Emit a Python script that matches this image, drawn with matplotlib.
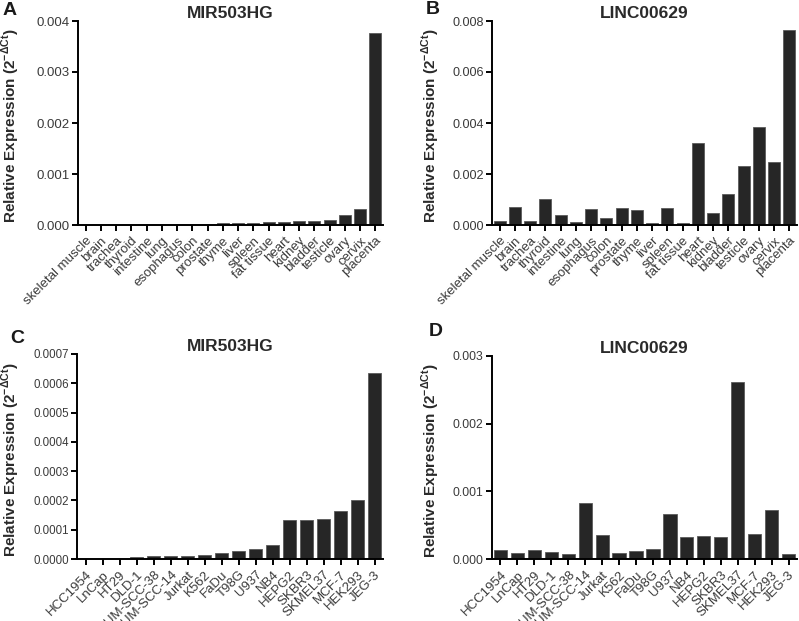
import matplotlib

matplotlib.use("Agg")
import matplotlib.pyplot as plt
from matplotlib.ticker import FormatStrFormatter, MultipleLocator

plt.rcParams["font.family"] = ["Liberation Sans", "DejaVu Sans"]
plt.rcParams["mathtext.fontset"] = "custom"
plt.rcParams["mathtext.rm"] = "Liberation Sans"
plt.rcParams["mathtext.bf"] = "Liberation Sans:bold"

tissues = ["skeletal muscle", "brain", "trachea", "thyroid", "intestine", "lung",
           "esophagus", "colon", "prostate", "thyme", "liver", "spleen", "fat tissue",
           "heart", "kidney", "bladder", "testicle", "ovary", "cervix", "placenta"]
mir_tissue = [0.000001, 0.000001, 0.000001, 0.000001, 0.000001, 0.000001,
              0.000001, 0.000001, 0.000002, 0.00003, 0.00004, 0.00004, 0.00005,
              0.00006, 0.00007, 0.00008, 0.00009, 0.000195, 0.000305, 0.00376]
linc_tissue = [0.00017, 0.0007, 0.00016, 0.00103, 0.00038, 0.00012,
               0.00063, 0.00026, 0.00068, 0.00059, 0.00008, 0.00065, 0.00008,
               0.00322, 0.00048, 0.00121, 0.00231, 0.00383, 0.00246, 0.00764]

cells = ["HCC1954", "LnCap", "HT29", "DLD-1", "UM-SCC-38", "UM-SCC-14", "Jurkat",
         "K562", "FaDu", "T98G", "U937", "NB4", "HEPG2", "SKBR3", "SKMEL37",
         "MCF-7", "HEK293", "JEG-3"]
mir_cells = [0.0000008, 0.000001, 0.0000015, 0.0000057, 0.000009, 0.000009,
             0.000011, 0.000015, 0.000022, 0.000026, 0.000035, 0.000048,
             0.000132, 0.000134, 0.000135, 0.000163, 0.000201, 0.000634]
linc_cells = [0.000138, 0.000093, 0.000133, 0.0001, 0.000069, 0.000826,
              0.000349, 0.000084, 0.000118, 0.000152, 0.000669, 0.00033,
              0.00034, 0.000325, 0.002616, 0.000364, 0.000718, 0.000074]

W, H = 799, 621
BAR_COLOR = "#262626"
TEXT_COLOR = "#3a3a3a"
YLABEL = r"Relative Expression (2$^{\mathbf{-ΔCt}}$)"

# letter, title, labels, values, ymax, step, fmt, ytick size,
# axes box in px (l, r, top, bottom), ylabel x px, letter xy px, title pad
panels = [
    ("A", "MIR503HG", tissues, mir_tissue, 0.004, 0.001, "%.3f", 9.5,
     (78, 383, 21, 225), 11, (3, 15), -2),
    ("B", "LINC00629", tissues, linc_tissue, 0.008, 0.002, "%.3f", 9.1,
     (492, 797, 21, 225), 431, (426, 14), -2),
    ("C", "MIR503HG", cells, mir_cells, 0.0007, 0.0001, "%.4f", 8.3,
     (77, 383, 354, 559), 11, (10, 343), 2),
    ("D", "LINC00629", cells, linc_cells, 0.003, 0.001, "%.3f", 8.7,
     (492, 797, 356, 559), 431, (429, 336), -1),
]

fig = plt.figure(figsize=(W / 100, H / 100), dpi=100)

for letter, title, labels, values, ymax, step, fmt, ysize, box, lab_x, let_xy, pad in panels:
    l, r, t, b = box
    ax = fig.add_axes([l / W, 1 - b / H, (r - l) / W, (b - t) / H])
    x = range(len(labels))
    ax.bar(x, values, width=0.78, color=BAR_COLOR, edgecolor="#5a5a5a", linewidth=0.6)
    ax.set_xlim(-0.5, len(labels) - 0.5)
    ax.set_ylim(0, ymax)
    ax.yaxis.set_major_locator(MultipleLocator(step))
    ax.yaxis.set_major_formatter(FormatStrFormatter(fmt))
    ax.set_xticks(list(x))
    ax.set_xticklabels(labels, rotation=45, ha="right", va="top",
                       rotation_mode="anchor", fontsize=9.5, color=TEXT_COLOR)
    for s in ("top", "right"):
        ax.spines[s].set_visible(False)
    for s in ("left", "bottom"):
        ax.spines[s].set_linewidth(1.4)
    ax.tick_params(axis="both", length=4, width=1.4, pad=2, labelcolor=TEXT_COLOR)
    ax.tick_params(axis="y", labelsize=ysize)
    ax.tick_params(axis="x", pad=3)
    ax.set_title(title, fontsize=12.5, fontweight="bold", color="#2a2a2a", pad=pad)
    fig.text(lab_x / W, 1 - ((t + b) / 2 + 3) / H, YLABEL, rotation=90,
             ha="center", va="center", fontsize=11, fontweight="bold", color="#2a2a2a")
    fig.text(let_xy[0] / W, 1 - let_xy[1] / H, letter, fontsize=14,
             fontweight="bold", color="#1a1a1a", ha="left", va="baseline")

fig.savefig("out.png", dpi=100)
